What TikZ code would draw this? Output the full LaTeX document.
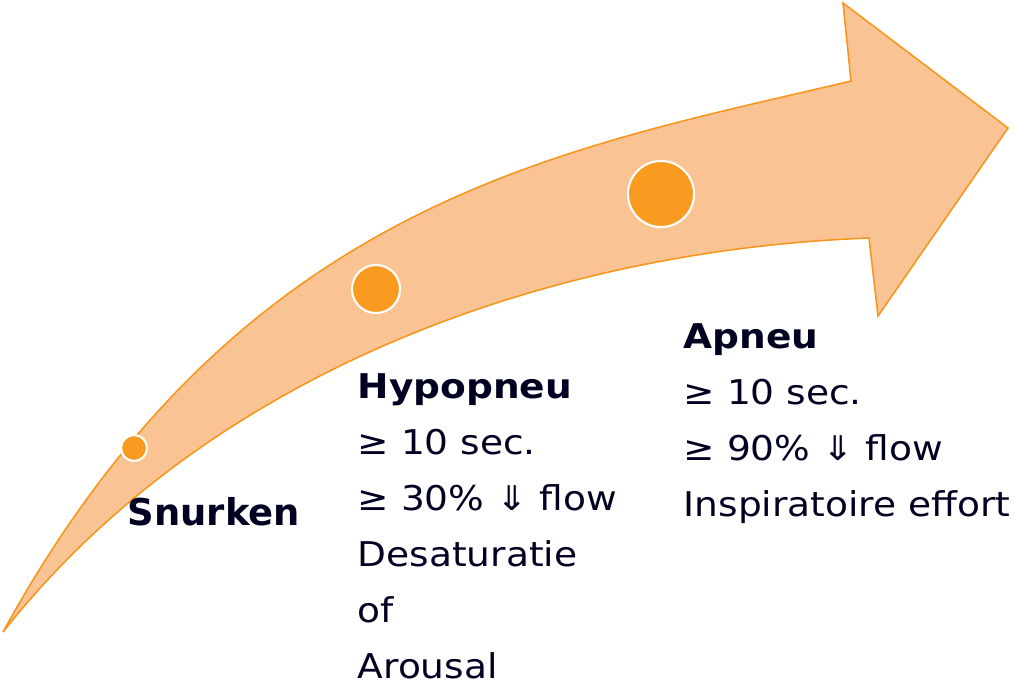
\documentclass[tikz,border=0pt]{standalone}
\usepackage{fontspec}
\setmainfont{DejaVu Sans}[FakeStretch=1.1]
\newfontfamily\snurkenfont{DejaVu Sans}
\definecolor{arrowfill}{RGB}{250,195,148}
\definecolor{arrowline}{RGB}{247,150,31}
\definecolor{dotfill}{RGB}{248,155,32}
\definecolor{textnavy}{RGB}{0,0,32}
\begin{document}
\begin{tikzpicture}[x=0.01cm, y=-0.01cm,
  dot/.style={circle, draw=white, line width=0.6pt, fill=dotfill, inner sep=0pt},
  label/.style={anchor=base west, inner sep=0pt, align=left, text=textnavy, font=\fontsize{9.7}{15.9}\selectfont}]
  \useasboundingbox (0,0) rectangle (1015,687);
  \path[fill=arrowfill, draw=arrowline, line width=0.45pt, line join=miter]
    (3,632) .. controls (240,200) and (560,150) .. (851,81)
    -- (843,3) -- (1008,128) -- (878,316) -- (869,238)
    .. controls (550,250) and (210,370) .. (3,632) -- cycle;
  \node[dot, minimum size=0.26cm] (dotsnurken) at (134,448) {};
  \node[dot, minimum size=0.48cm] (dothypo) at (376,289) {};
  \node[dot, minimum size=0.66cm] (dotapneu) at (661,194) {};
  \node[label, font=\snurkenfont\fontsize{10.5}{15.9}\selectfont\bfseries] (snurken) at (127,525) {Snurken};
  \node[label] (hypopneu) at (357,678) {\textbf{Hypopneu}\\≥ 10 sec.\\≥ 30\% ⇓ flow\\Desaturatie\\of\\Arousal};
  \node[label] (apneu) at (683,516) {\textbf{Apneu}\\≥ 10 sec.\\≥ 90\% ⇓ flow\\Inspiratoire effort};
\end{tikzpicture}
\end{document}
